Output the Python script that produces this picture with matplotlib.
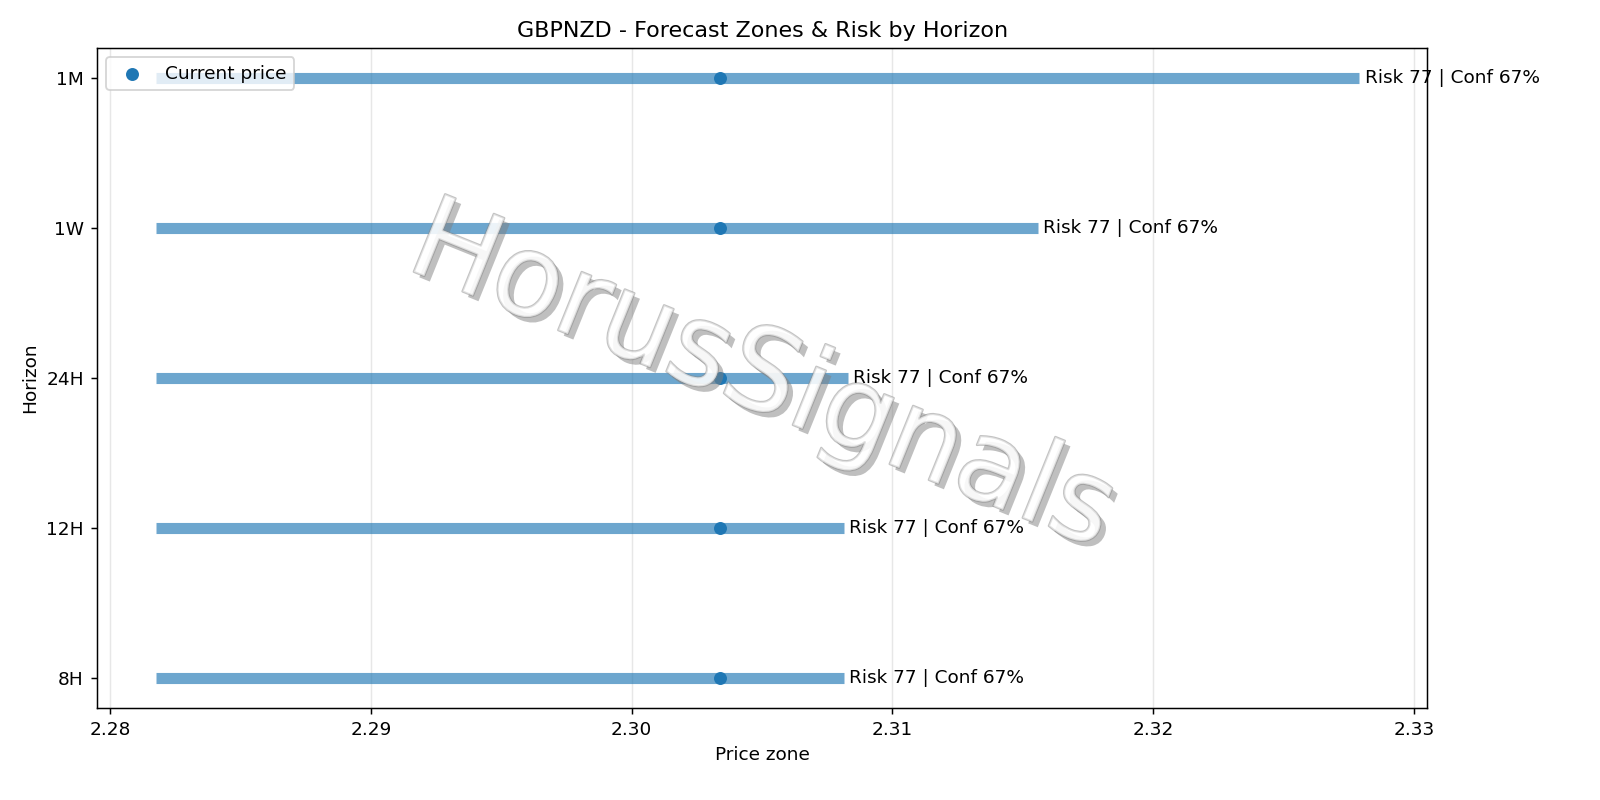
import matplotlib
matplotlib.use("Agg")
import matplotlib.pyplot as plt
import matplotlib.patheffects as pe

horizons = ["8H", "12H", "24H", "1W", "1M"]
zone_low = [2.28176, 2.28176, 2.28176, 2.28176, 2.28176]
zone_high = [2.30813, 2.30813, 2.30829, 2.31557, 2.32790]
current = 2.30338
risk = [77, 77, 77, 77, 77]
conf = [67, 67, 67, 67, 67]

DPI = 400 / 3
fig, ax = plt.subplots(figsize=(12, 6), dpi=DPI)
for i, h in enumerate(horizons):
    ax.hlines(i, zone_low[i], zone_high[i], linewidth=6, color="#1f77b4", alpha=0.65)
    ax.text(zone_high[i] + 0.0002, i, f"Risk {risk[i]} | Conf {conf[i]}%",
            va="center", ha="left", fontsize=10)
ax.scatter([current] * len(horizons), range(len(horizons)), color="#1f77b4",
           zorder=3, label="Current price")

ax.set_yticks(range(len(horizons)))
ax.set_yticklabels(horizons)
ax.set_xlim(2.2795, 2.3305)
ax.set_ylim(-0.2, 4.2)
ax.grid(axis="x", alpha=0.3)
ax.set_xlabel("Price zone")
ax.set_ylabel("Horizon")
ax.set_title("GBPNZD - Forecast Zones & Risk by Horizon")
ax.legend(loc="upper left")

# watermark
ax.text(0.5, 0.5, "HorusSignals", transform=ax.transAxes, fontsize=62,
        rotation=-22, ha="center", va="center", color="white", alpha=0.5,
        path_effects=[pe.withSimplePatchShadow(offset=(3, -3), shadow_rgbFace="gray", alpha=0.5),
                      pe.withStroke(linewidth=1.2, foreground="#888888")],
        zorder=5)

fig.subplots_adjust(left=0.0606, right=0.892, top=0.94, bottom=0.115)
fig.savefig("out.png", dpi=DPI)
